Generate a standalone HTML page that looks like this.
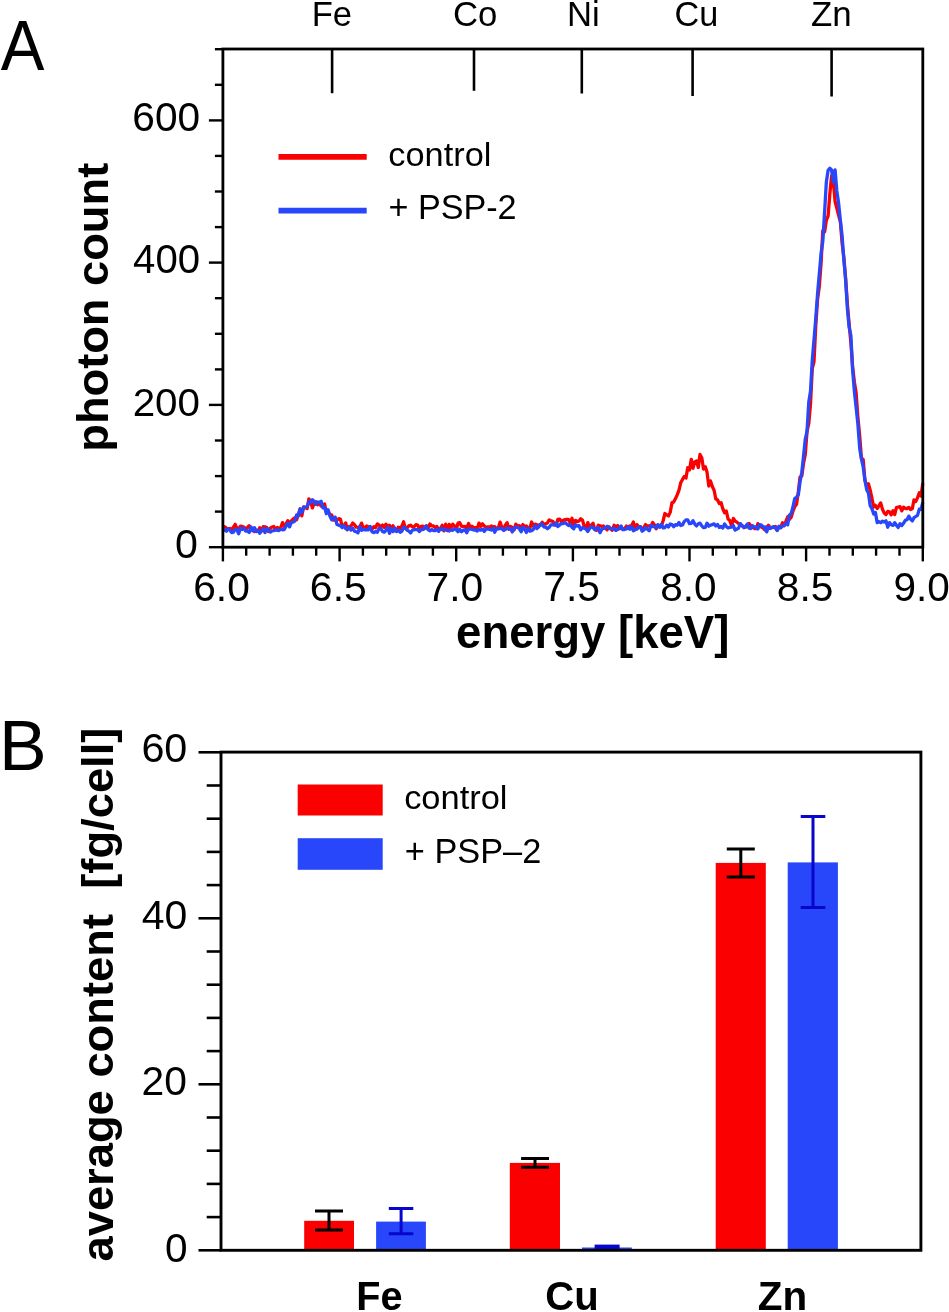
<!DOCTYPE html>
<html><head><meta charset="utf-8">
<style>
html,body{margin:0;padding:0;background:#fff;overflow:hidden;}
svg{display:block;will-change:transform;}
text{font-family:"Liberation Sans",sans-serif;fill:#000;white-space:pre;}
</style></head>
<body>
<svg width="949" height="1312" viewBox="0 0 949 1312">
<rect width="949" height="1312" fill="#fff"/>
<g stroke="#000" stroke-width="2.4">
<line x1="208.9" y1="547.2" x2="222.9" y2="547.2"/>
<line x1="214.9" y1="511.6" x2="222.9" y2="511.6"/>
<line x1="214.9" y1="476.1" x2="222.9" y2="476.1"/>
<line x1="214.9" y1="440.5" x2="222.9" y2="440.5"/>
<line x1="208.9" y1="404.9" x2="222.9" y2="404.9"/>
<line x1="214.9" y1="369.4" x2="222.9" y2="369.4"/>
<line x1="214.9" y1="333.8" x2="222.9" y2="333.8"/>
<line x1="214.9" y1="298.2" x2="222.9" y2="298.2"/>
<line x1="208.9" y1="262.6" x2="222.9" y2="262.6"/>
<line x1="214.9" y1="227.1" x2="222.9" y2="227.1"/>
<line x1="214.9" y1="191.5" x2="222.9" y2="191.5"/>
<line x1="214.9" y1="155.9" x2="222.9" y2="155.9"/>
<line x1="208.9" y1="120.4" x2="222.9" y2="120.4"/>
<line x1="214.9" y1="84.8" x2="222.9" y2="84.8"/>
<line x1="214.9" y1="49.2" x2="222.9" y2="49.2"/>
<line x1="222.9" y1="547.2" x2="222.9" y2="561.4"/>
<line x1="246.2" y1="547.2" x2="246.2" y2="555.7"/>
<line x1="269.6" y1="547.2" x2="269.6" y2="555.7"/>
<line x1="292.9" y1="547.2" x2="292.9" y2="555.7"/>
<line x1="316.2" y1="547.2" x2="316.2" y2="555.7"/>
<line x1="339.6" y1="547.2" x2="339.6" y2="561.4"/>
<line x1="362.9" y1="547.2" x2="362.9" y2="555.7"/>
<line x1="386.2" y1="547.2" x2="386.2" y2="555.7"/>
<line x1="409.5" y1="547.2" x2="409.5" y2="555.7"/>
<line x1="432.9" y1="547.2" x2="432.9" y2="555.7"/>
<line x1="456.2" y1="547.2" x2="456.2" y2="561.4"/>
<line x1="479.5" y1="547.2" x2="479.5" y2="555.7"/>
<line x1="502.9" y1="547.2" x2="502.9" y2="555.7"/>
<line x1="526.2" y1="547.2" x2="526.2" y2="555.7"/>
<line x1="549.5" y1="547.2" x2="549.5" y2="555.7"/>
<line x1="572.9" y1="547.2" x2="572.9" y2="561.4"/>
<line x1="596.2" y1="547.2" x2="596.2" y2="555.7"/>
<line x1="619.5" y1="547.2" x2="619.5" y2="555.7"/>
<line x1="642.8" y1="547.2" x2="642.8" y2="555.7"/>
<line x1="666.2" y1="547.2" x2="666.2" y2="555.7"/>
<line x1="689.5" y1="547.2" x2="689.5" y2="561.4"/>
<line x1="712.8" y1="547.2" x2="712.8" y2="555.7"/>
<line x1="736.2" y1="547.2" x2="736.2" y2="555.7"/>
<line x1="759.5" y1="547.2" x2="759.5" y2="555.7"/>
<line x1="782.8" y1="547.2" x2="782.8" y2="555.7"/>
<line x1="806.1" y1="547.2" x2="806.1" y2="561.4"/>
<line x1="829.5" y1="547.2" x2="829.5" y2="555.7"/>
<line x1="852.8" y1="547.2" x2="852.8" y2="555.7"/>
<line x1="876.1" y1="547.2" x2="876.1" y2="555.7"/>
<line x1="899.5" y1="547.2" x2="899.5" y2="555.7"/>
<line x1="922.8" y1="547.2" x2="922.8" y2="561.4"/>
<line x1="332.1" y1="49" x2="332.1" y2="93.2" stroke-width="2.6"/>
<line x1="474.0" y1="49" x2="474.0" y2="90.8" stroke-width="2.6"/>
<line x1="581.8" y1="49" x2="581.8" y2="93.5" stroke-width="2.6"/>
<line x1="692.6" y1="49" x2="692.6" y2="96.0" stroke-width="2.6"/>
<line x1="831.6" y1="49" x2="831.6" y2="96.5" stroke-width="2.6"/>
</g>
<polyline points="222.9,527.3 224.7,526.7 226.4,528.0 228.2,529.3 229.9,528.4 231.7,529.6 233.4,527.2 235.2,524.3 236.9,528.4 238.7,528.7 240.4,526.2 242.2,526.5 243.9,527.1 245.7,529.4 247.5,527.4 249.2,525.7 251.0,530.3 252.7,528.3 254.5,531.6 256.2,530.2 258.0,531.4 259.7,527.8 261.5,530.1 263.2,526.6 265.0,526.8 266.8,527.6 268.5,531.6 270.3,528.2 272.0,527.0 273.8,526.5 275.5,530.1 277.3,527.5 279.0,528.3 280.8,527.6 282.5,522.6 284.3,526.5 286.0,523.9 287.8,520.7 289.6,523.4 291.3,521.0 293.1,519.1 294.8,517.7 296.6,519.8 298.3,514.4 300.1,508.9 301.8,515.9 303.6,506.8 305.3,507.6 307.1,508.6 308.9,498.8 310.6,501.9 312.4,507.8 314.1,503.3 315.9,501.7 317.6,504.7 319.4,502.5 321.1,506.0 322.9,504.9 324.6,504.0 326.4,512.2 328.1,511.2 329.9,514.9 331.7,514.9 333.4,520.2 335.2,520.0 336.9,520.3 338.7,518.7 340.4,519.2 342.2,526.4 343.9,525.8 345.7,523.0 347.4,529.8 349.2,526.6 351.0,526.0 352.7,523.1 354.5,524.7 356.2,527.2 358.0,527.4 359.7,527.1 361.5,523.1 363.2,527.6 365.0,527.4 366.7,525.9 368.5,526.9 370.2,527.1 372.0,529.2 373.8,526.7 375.5,527.7 377.3,523.9 379.0,525.1 380.8,526.7 382.5,525.1 384.3,527.4 386.0,524.1 387.8,526.6 389.5,525.2 391.3,529.5 393.1,525.7 394.8,530.4 396.6,531.1 398.3,527.2 400.1,528.5 401.8,526.1 403.6,521.8 405.3,528.3 407.1,527.8 408.8,525.9 410.6,525.2 412.3,526.8 414.1,526.8 415.9,524.7 417.6,525.1 419.4,528.7 421.1,526.5 422.9,526.2 424.6,528.7 426.4,525.7 428.1,528.3 429.9,524.0 431.6,525.8 433.4,526.0 435.2,527.6 436.9,526.5 438.7,530.8 440.4,528.8 442.2,525.3 443.9,530.8 445.7,524.2 447.4,530.2 449.2,524.4 450.9,528.1 452.7,524.3 454.4,525.8 456.2,529.7 458.0,523.2 459.7,522.7 461.5,526.2 463.2,526.7 465.0,526.4 466.7,528.3 468.5,523.5 470.2,527.3 472.0,526.2 473.7,527.9 475.5,527.5 477.2,529.0 479.0,523.1 480.8,526.4 482.5,523.8 484.3,526.0 486.0,527.6 487.8,526.8 489.5,527.3 491.3,526.0 493.0,526.9 494.8,526.7 496.5,529.2 498.3,527.9 500.1,522.1 501.8,527.6 503.6,528.4 505.3,525.2 507.1,522.7 508.8,529.4 510.6,526.4 512.3,527.4 514.1,530.0 515.8,524.2 517.6,525.9 519.3,525.7 521.1,527.5 522.9,524.6 524.6,526.9 526.4,525.9 528.1,528.1 529.9,528.2 531.6,522.0 533.4,526.2 535.1,524.1 536.9,524.7 538.6,525.4 540.4,525.4 542.2,522.3 543.9,524.4 545.7,523.7 547.4,523.0 549.2,519.9 550.9,520.8 552.7,521.3 554.4,523.5 556.2,525.4 557.9,519.3 559.7,519.2 561.4,521.9 563.2,520.2 565.0,519.6 566.7,519.5 568.5,519.4 570.2,523.1 572.0,518.3 573.7,525.5 575.5,520.4 577.2,521.6 579.0,521.0 580.7,518.8 582.5,520.1 584.3,526.8 586.0,528.4 587.8,522.6 589.5,527.2 591.3,525.1 593.0,523.3 594.8,529.3 596.5,530.3 598.3,525.2 600.0,525.8 601.8,526.6 603.5,526.0 605.3,528.2 607.1,529.8 608.8,526.7 610.6,528.6 612.3,530.2 614.1,525.3 615.8,526.6 617.6,525.6 619.3,528.8 621.1,528.1 622.8,528.9 624.6,528.6 626.4,526.1 628.1,528.4 629.9,525.8 631.6,525.8 633.4,522.0 635.1,529.8 636.9,524.6 638.6,526.8 640.4,526.6 642.1,529.8 643.9,527.5 645.6,524.6 647.4,526.3 649.2,525.7 650.9,526.3 652.7,522.4 654.4,524.7 656.2,528.8 657.9,524.8 659.7,527.0 661.4,525.9 663.2,520.5 664.9,513.5 666.7,514.8 668.5,515.9 670.2,512.4 672.0,502.6 673.7,502.1 675.5,498.6 677.2,494.9 679.0,490.2 680.7,482.8 682.5,479.4 684.2,476.6 686.0,478.1 687.7,467.7 689.5,469.9 691.3,459.3 693.0,468.3 694.8,461.9 696.5,460.9 698.3,467.5 700.0,454.5 701.8,457.7 703.5,469.1 705.3,466.7 707.0,472.1 708.8,486.1 710.5,480.9 712.3,486.5 714.1,490.3 715.8,498.9 717.6,500.0 719.3,503.5 721.1,502.7 722.8,508.8 724.6,512.8 726.3,511.0 728.1,519.1 729.8,520.5 731.6,525.8 733.4,518.5 735.1,521.1 736.9,522.2 738.6,523.5 740.4,525.4 742.1,525.6 743.9,527.0 745.6,527.1 747.4,526.7 749.1,523.5 750.9,525.8 752.6,527.3 754.4,528.5 756.2,528.7 757.9,523.6 759.7,526.1 761.4,527.1 763.2,528.0 764.9,529.8 766.7,527.4 768.4,525.2 770.2,528.0 771.9,527.6 773.7,527.4 775.5,526.5 777.2,530.2 779.0,526.7 780.7,527.6 782.5,522.7 784.2,525.7 786.0,521.1 787.7,516.8 789.5,519.3 791.2,517.2 793.0,511.1 794.7,506.9 796.5,504.4 798.3,492.0 800.0,477.1 801.8,475.9 803.5,463.7 805.3,454.3 807.0,431.7 808.8,423.4 810.5,404.1 812.3,368.4 814.0,361.8 815.8,325.3 817.6,299.0 819.3,286.6 821.1,262.8 822.8,230.7 824.6,231.9 826.3,220.5 828.1,215.8 829.8,194.3 831.6,176.0 833.3,180.3 835.1,201.8 836.8,208.0 838.6,215.4 840.4,222.0 842.1,243.1 843.9,258.2 845.6,277.9 847.4,304.0 849.1,323.5 850.9,343.2 852.6,366.2 854.4,382.2 856.1,392.6 857.9,417.5 859.7,435.8 861.4,458.0 863.2,459.6 864.9,480.0 866.7,485.8 868.4,483.7 870.2,490.2 871.9,498.0 873.7,507.0 875.4,505.3 877.2,508.5 878.9,505.9 880.7,502.9 882.5,509.4 884.2,513.0 886.0,514.6 887.7,511.4 889.5,511.9 891.2,514.8 893.0,510.8 894.7,514.5 896.5,507.3 898.2,507.1 900.0,506.6 901.8,510.9 903.5,507.2 905.3,508.5 907.0,508.5 908.8,507.4 910.5,509.5 912.3,508.8 914.0,499.8 915.8,501.4 917.5,497.9 919.3,492.7 921.0,496.0 922.8,483.2" fill="none" stroke="#fb0000" stroke-width="3.3" stroke-linejoin="round"/>
<polyline points="222.9,530.2 224.7,529.9 226.4,531.2 228.2,528.8 229.9,530.2 231.7,532.6 233.4,532.1 235.2,529.1 236.9,529.7 238.7,533.8 240.4,528.2 242.2,529.5 243.9,528.2 245.7,531.2 247.5,531.0 249.2,532.4 251.0,527.0 252.7,530.8 254.5,527.7 256.2,531.6 258.0,530.2 259.7,533.3 261.5,531.1 263.2,528.7 265.0,532.5 266.8,528.5 268.5,529.7 270.3,532.0 272.0,530.9 273.8,530.7 275.5,529.7 277.3,530.3 279.0,530.5 280.8,529.0 282.5,529.8 284.3,529.6 286.0,526.3 287.8,523.4 289.6,526.9 291.3,522.4 293.1,522.1 294.8,521.1 296.6,514.9 298.3,516.1 300.1,509.0 301.8,512.5 303.6,507.4 305.3,507.1 307.1,506.8 308.9,501.7 310.6,502.6 312.4,499.7 314.1,501.2 315.9,504.3 317.6,502.0 319.4,502.5 321.1,501.2 322.9,507.9 324.6,507.4 326.4,513.7 328.1,509.7 329.9,516.1 331.7,519.9 333.4,517.8 335.2,517.1 336.9,524.5 338.7,525.1 340.4,525.7 342.2,527.6 343.9,525.6 345.7,528.7 347.4,529.2 349.2,527.3 351.0,530.1 352.7,528.3 354.5,531.1 356.2,531.7 358.0,532.9 359.7,526.4 361.5,530.4 363.2,529.4 365.0,529.9 366.7,529.6 368.5,529.8 370.2,526.5 372.0,531.7 373.8,532.6 375.5,531.6 377.3,532.2 379.0,528.5 380.8,528.4 382.5,531.5 384.3,532.2 386.0,530.4 387.8,527.3 389.5,533.3 391.3,528.8 393.1,531.6 394.8,527.9 396.6,531.6 398.3,530.2 400.1,532.3 401.8,531.4 403.6,527.2 405.3,528.2 407.1,530.3 408.8,531.1 410.6,532.9 412.3,530.3 414.1,529.6 415.9,529.7 417.6,529.7 419.4,531.5 421.1,529.6 422.9,529.6 424.6,527.2 426.4,526.2 428.1,529.7 429.9,530.8 431.6,529.6 433.4,530.5 435.2,530.7 436.9,529.5 438.7,531.3 440.4,528.3 442.2,529.6 443.9,528.9 445.7,529.7 447.4,530.6 449.2,531.0 450.9,529.8 452.7,530.3 454.4,528.9 456.2,529.3 458.0,531.7 459.7,529.2 461.5,531.7 463.2,530.4 465.0,529.8 466.7,532.8 468.5,529.1 470.2,529.0 472.0,529.5 473.7,530.0 475.5,529.9 477.2,531.0 479.0,529.7 480.8,530.2 482.5,529.1 484.3,531.4 486.0,528.8 487.8,529.0 489.5,529.5 491.3,530.0 493.0,528.2 494.8,532.2 496.5,528.4 498.3,528.8 500.1,528.7 501.8,528.5 503.6,530.4 505.3,529.6 507.1,528.0 508.8,528.4 510.6,528.8 512.3,531.9 514.1,528.2 515.8,527.0 517.6,527.3 519.3,528.6 521.1,531.8 522.9,527.2 524.6,529.1 526.4,532.4 528.1,528.0 529.9,531.2 531.6,530.7 533.4,529.4 535.1,525.7 536.9,528.5 538.6,527.1 540.4,524.1 542.2,524.1 543.9,527.0 545.7,527.0 547.4,528.7 549.2,527.4 550.9,524.9 552.7,524.7 554.4,525.1 556.2,523.1 557.9,526.5 559.7,525.0 561.4,523.3 563.2,523.6 565.0,522.6 566.7,524.1 568.5,525.6 570.2,524.4 572.0,527.3 573.7,528.8 575.5,524.7 577.2,526.2 579.0,525.7 580.7,529.9 582.5,527.6 584.3,528.3 586.0,529.1 587.8,531.5 589.5,528.6 591.3,526.6 593.0,527.7 594.8,529.7 596.5,528.8 598.3,527.6 600.0,532.6 601.8,529.4 603.5,528.3 605.3,528.1 607.1,526.3 608.8,527.4 610.6,528.9 612.3,528.9 614.1,528.1 615.8,530.4 617.6,529.5 619.3,527.9 621.1,526.0 622.8,529.7 624.6,529.5 626.4,529.0 628.1,526.9 629.9,529.3 631.6,526.5 633.4,530.8 635.1,529.3 636.9,529.2 638.6,527.3 640.4,526.7 642.1,531.2 643.9,530.0 645.6,527.6 647.4,529.2 649.2,530.7 650.9,525.7 652.7,526.5 654.4,526.3 656.2,527.9 657.9,524.9 659.7,527.1 661.4,524.3 663.2,527.9 664.9,527.6 666.7,525.3 668.5,526.9 670.2,524.0 672.0,524.6 673.7,526.7 675.5,524.6 677.2,525.2 679.0,522.5 680.7,525.5 682.5,525.0 684.2,521.6 686.0,519.9 687.7,519.8 689.5,523.7 691.3,523.4 693.0,520.7 694.8,524.1 696.5,525.9 698.3,523.7 700.0,523.1 701.8,525.8 703.5,527.6 705.3,527.3 707.0,523.2 708.8,526.2 710.5,525.1 712.3,524.6 714.1,523.9 715.8,526.0 717.6,524.5 719.3,527.4 721.1,526.5 722.8,528.0 724.6,524.0 726.3,526.4 728.1,527.9 729.8,527.3 731.6,527.2 733.4,525.6 735.1,530.1 736.9,529.1 738.6,528.0 740.4,523.6 742.1,525.7 743.9,527.8 745.6,526.3 747.4,524.0 749.1,528.2 750.9,528.5 752.6,525.7 754.4,527.1 756.2,526.8 757.9,529.0 759.7,524.6 761.4,525.0 763.2,527.1 764.9,526.9 766.7,531.9 768.4,527.0 770.2,528.5 771.9,527.2 773.7,526.6 775.5,528.3 777.2,530.5 779.0,526.2 780.7,527.7 782.5,526.0 784.2,525.4 786.0,523.3 787.7,524.8 789.5,514.9 791.2,513.5 793.0,506.8 794.7,498.6 796.5,497.2 798.3,494.8 800.0,482.3 801.8,472.2 803.5,456.4 805.3,438.8 807.0,431.6 808.8,401.7 810.5,391.3 812.3,359.8 814.0,339.6 815.8,317.8 817.6,293.2 819.3,273.9 821.1,253.1 822.8,241.6 824.6,211.9 826.3,182.6 828.1,170.3 829.8,168.2 831.6,169.9 833.3,182.0 835.1,169.8 836.8,190.7 838.6,203.2 840.4,220.6 842.1,235.9 843.9,260.1 845.6,279.5 847.4,308.8 849.1,327.0 850.9,335.5 852.6,369.9 854.4,391.6 856.1,407.2 857.9,424.4 859.7,448.5 861.4,458.8 863.2,467.0 864.9,480.1 866.7,489.7 868.4,493.0 870.2,505.7 871.9,508.6 873.7,514.1 875.4,512.4 877.2,522.7 878.9,521.6 880.7,522.7 882.5,521.1 884.2,522.0 886.0,520.8 887.7,527.2 889.5,522.6 891.2,524.7 893.0,525.4 894.7,522.7 896.5,525.5 898.2,527.4 900.0,523.7 901.8,525.6 903.5,523.3 905.3,520.4 907.0,519.8 908.8,516.1 910.5,519.0 912.3,520.9 914.0,517.7 915.8,516.5 917.5,515.4 919.3,509.1 921.0,509.3 922.8,502.4" fill="none" stroke="#2847fb" stroke-width="3.3" stroke-linejoin="round"/>
<rect x="222.9" y="49" width="699.9" height="498.20000000000005" fill="none" stroke="#000" stroke-width="2.8"/>
<text font-size="68" font-weight="normal" transform="translate(0.71,69.50) scale(0.9622,1.0396)">A</text>
<text font-size="34" font-weight="normal" transform="translate(311.70,26.00) scale(1.0169,1.0350)">Fe</text>
<text font-size="34" font-weight="normal" transform="translate(453.01,26.00) scale(1.0211,1.0350)">Co</text>
<text font-size="34" font-weight="normal" transform="translate(567.00,26.00) scale(1.0185,1.0350)">Ni</text>
<text font-size="34" font-weight="normal" transform="translate(674.54,26.00) scale(1.0076,1.0350)">Cu</text>
<text font-size="34" font-weight="normal" transform="translate(810.88,26.00) scale(1.0247,1.0350)">Zn</text>
<text font-size="39" font-weight="normal" transform="translate(132.32,130.54) scale(1.0423,1.0400)">600</text>
<text font-size="39" font-weight="normal" transform="translate(133.07,272.94) scale(1.0304,1.0400)">400</text>
<text font-size="39" font-weight="normal" transform="translate(132.63,415.55) scale(1.0358,1.0182)">200</text>
<text font-size="39" font-weight="normal" transform="translate(175.12,558.14) scale(1.0560,1.0436)">0</text>
<text font-size="46" font-weight="bold" transform="translate(456.07,647.64) scale(0.9902,0.9907)">energy [keV]</text>
<text font-size="46" font-weight="bold" transform="translate(107.77,451.75) rotate(-90) scale(0.9836,0.9825)">photon count</text>
<text font-size="33" font-weight="normal" transform="translate(388.34,165.74) scale(1.0404,1.0268)">control</text>
<text font-size="33" font-weight="normal" transform="translate(388.45,219.43) scale(1.0352,1.0624)">+ PSP-2</text>
<text font-size="39" font-weight="normal" transform="translate(193.21,600.54) scale(1.0443,1.0473)">6.0</text>
<text font-size="39" font-weight="normal" transform="translate(309.87,600.54) scale(1.0495,1.0473)">6.5</text>
<text font-size="39" font-weight="normal" transform="translate(426.54,600.54) scale(1.0443,1.0473)">7.0</text>
<text font-size="39" font-weight="normal" transform="translate(543.20,600.53) scale(1.0495,1.0667)">7.5</text>
<text font-size="39" font-weight="normal" transform="translate(660.15,600.54) scale(1.0392,1.0473)">8.0</text>
<text font-size="39" font-weight="normal" transform="translate(776.81,600.54) scale(1.0443,1.0473)">8.5</text>
<text font-size="39" font-weight="normal" transform="translate(893.48,600.54) scale(1.0392,1.0473)">9.0</text>
<line x1="278.5" y1="156.8" x2="366.7" y2="156.8" stroke="#fb0000" stroke-width="5.8"/>
<line x1="278.5" y1="210.7" x2="366.7" y2="210.7" stroke="#2847fb" stroke-width="5.8"/>
<g stroke="#000" stroke-width="2.6">
<line x1="198.5" y1="1250.3" x2="221" y2="1250.3"/>
<line x1="206.7" y1="1217.1" x2="221" y2="1217.1"/>
<line x1="206.7" y1="1183.9" x2="221" y2="1183.9"/>
<line x1="206.7" y1="1150.7" x2="221" y2="1150.7"/>
<line x1="206.7" y1="1117.5" x2="221" y2="1117.5"/>
<line x1="198.5" y1="1084.3" x2="221" y2="1084.3"/>
<line x1="206.7" y1="1051.1" x2="221" y2="1051.1"/>
<line x1="206.7" y1="1017.9" x2="221" y2="1017.9"/>
<line x1="206.7" y1="984.7" x2="221" y2="984.7"/>
<line x1="206.7" y1="951.5" x2="221" y2="951.5"/>
<line x1="198.5" y1="918.3" x2="221" y2="918.3"/>
<line x1="206.7" y1="885.1" x2="221" y2="885.1"/>
<line x1="206.7" y1="851.9" x2="221" y2="851.9"/>
<line x1="206.7" y1="818.7" x2="221" y2="818.7"/>
<line x1="206.7" y1="785.5" x2="221" y2="785.5"/>
<line x1="198.5" y1="752.3" x2="221" y2="752.3"/>
</g>
<rect x="304.2" y="1220.8" width="49.8" height="29.5" fill="#fb0000"/>
<rect x="376.1" y="1221.6" width="49.8" height="28.7" fill="#2847fb"/>
<rect x="509.8" y="1162.9" width="50.2" height="87.4" fill="#fb0000"/>
<rect x="582.0" y="1247.5" width="49.8" height="2.8" fill="#2847fb"/>
<rect x="715.7" y="862.9" width="50.1" height="387.4" fill="#fb0000"/>
<rect x="787.7" y="862.4" width="50.2" height="387.9" fill="#2847fb"/>
<path d="M315 1210.9H343M315 1230.0H343M329.0 1210.9V1230.0" stroke="#000" stroke-width="3" fill="none"/>
<path d="M388.8 1208.5H413.3M388.8 1233.8H413.3M401.1 1208.5V1233.8" stroke="#0606cc" stroke-width="3" fill="none"/>
<path d="M521.1 1158.5H549M521.1 1167.3H549M535.0 1158.5V1167.3" stroke="#000" stroke-width="3" fill="none"/>
<path d="M726.8 848.9H754.8M726.8 877.1H754.8M740.8 848.9V877.1" stroke="#000" stroke-width="3" fill="none"/>
<path d="M800.7 816.5H825.3M800.7 907.6H825.3M813.0 816.5V907.6" stroke="#0606cc" stroke-width="3" fill="none"/>
<rect x="594.6" y="1244.6" width="25" height="5.2" fill="#0606cc"/>
<rect x="221" y="752.1" width="699.9" height="498.2" fill="none" stroke="#000" stroke-width="2.9"/>
<rect x="297.7" y="784.5" width="85" height="31" fill="#fb0000"/>
<rect x="297.7" y="838.2" width="85" height="31.6" fill="#2847fb"/>
<text font-size="68" font-weight="normal" transform="translate(-0.88,769.90) scale(1.0510,1.0396)">B</text>
<text font-size="39" font-weight="normal" transform="translate(141.38,762.34) scale(1.0591,1.0327)">60</text>
<text font-size="39" font-weight="normal" transform="translate(141.75,928.74) scale(1.0503,1.0327)">40</text>
<text font-size="39" font-weight="normal" transform="translate(141.61,1095.44) scale(1.0465,1.0436)">20</text>
<text font-size="39" font-weight="normal" transform="translate(164.94,1261.64) scale(1.0400,1.0436)">0</text>
<text font-size="46" font-weight="bold" transform="translate(112.87,1261.53) rotate(-90) scale(0.9855,0.9674)">average content  [fg/cell]</text>
<text font-size="33" font-weight="normal" transform="translate(404.13,809.14) scale(1.0446,1.0268)">control</text>
<text font-size="33" font-weight="normal" transform="translate(404.84,862.93) scale(1.0406,1.0882)">+ PSP–2</text>
<text font-size="40" font-weight="bold" transform="translate(356.28,1309.80) scale(0.9906,1.0320)">Fe</text>
<text font-size="40" font-weight="bold" transform="translate(545.35,1309.80) scale(1.0020,1.0320)">Cu</text>
<text font-size="40" font-weight="bold" transform="translate(757.73,1309.80) scale(1.0122,1.0320)">Zn</text>
</svg>
</body></html>
